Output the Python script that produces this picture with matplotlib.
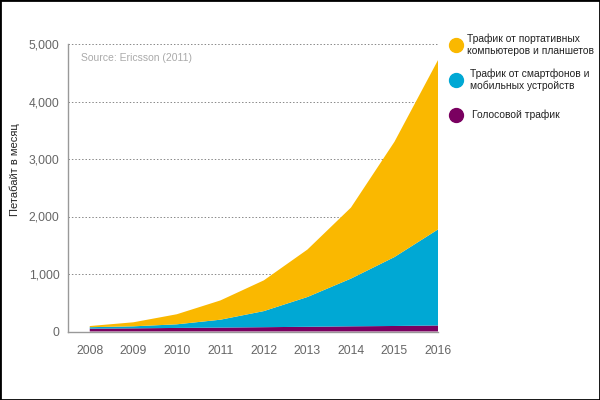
import matplotlib
matplotlib.use("Agg")
import matplotlib.pyplot as plt
from matplotlib.patches import Rectangle
from matplotlib.lines import Line2D
from matplotlib.ticker import FuncFormatter
import numpy as np

plt.rcParams['font.family'] = ['Liberation Sans', 'DejaVu Sans']

years = [2008, 2009, 2010, 2011, 2012, 2013, 2014, 2015, 2016]
voice = [50, 55, 62, 68, 75, 82, 90, 96, 105]
smart_top = [75, 90, 125, 205, 355, 600, 920, 1295, 1775]
laptop_top = [95, 160, 300, 540, 890, 1425, 2155, 3300, 4720]

smart = [s - v for s, v in zip(smart_top, voice)]
laptop = [l - s for l, s in zip(laptop_top, smart_top)]

labels = ["Голосовой трафик",
          "Трафик от смартфонов и\nмобильных устройств",
          "Трафик от портативных\nкомпьютеров и планшетов"]
colors = ["#7A0060", "#00A8D4", "#FAB800"]

fig = plt.figure(figsize=(6, 4), dpi=100)
ax = fig.add_axes([68/600, 1-331.5/400, (438-68)/600, (331.5-44)/400])

ax.stackplot(years, voice, smart, laptop, colors=colors, linewidth=0)

ax.set_xlim(2007.5, 2016)
ax.set_ylim(0, 5000)
ax.set_xticks(years)
ax.set_yticks([0, 1000, 2000, 3000, 4000, 5000])
ax.yaxis.set_major_formatter(FuncFormatter(lambda v, p: f"{int(v):,}"))
ax.tick_params(axis='both', length=0, labelsize=8.7, labelcolor="#666666")
ax.tick_params(axis='x', pad=10)
ax.tick_params(axis='y', pad=6)

for s in ['top', 'right']:
    ax.spines[s].set_visible(False)
for s in ['left', 'bottom']:
    ax.spines[s].set_color("#999999")
    ax.spines[s].set_linewidth(1)

ax.yaxis.grid(True, linestyle=(0, (1.5, 2)), color="#888888", linewidth=0.7)
ax.set_axisbelow(True)

ax.text(0.035, 0.95, "Source: Ericsson (2011)", transform=ax.transAxes,
        fontsize=7.5, color="#AAAAAA", va='center', ha='left')

fig.text(15/600, 1-170/400, "Петабайт в месяц", rotation=90, fontsize=8,
         color="#222222", ha='center', va='center')

# legend
leg_items = [(labels[2], colors[2], 45, 467), (labels[1], colors[1], 80, 470),
             (labels[0], colors[0], 115, 472)]
for text, col, ypx, xpx in leg_items:
    fig.add_artist(Line2D([456/600], [1-ypx/400], marker='o', markersize=10,
                          color=col, linestyle='None', transform=fig.transFigure))
    fig.text(xpx/600, 1-ypx/400, text, fontsize=7.4, color="#222222",
             va='center', ha='left', linespacing=1.2)

fig.add_artist(Rectangle((0, 0), 1, 1, transform=fig.transFigure, fill=False,
                         edgecolor='black', linewidth=2))

fig.savefig("out.png", dpi=100)
